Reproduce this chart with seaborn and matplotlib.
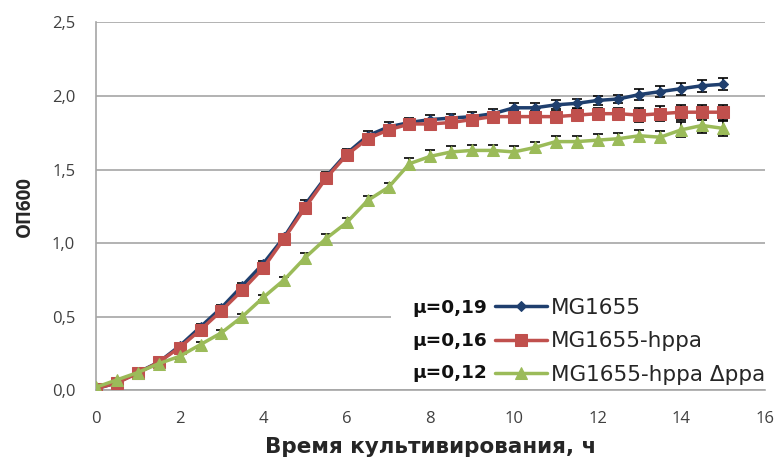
import matplotlib
matplotlib.use("Agg")
import matplotlib.pyplot as plt
import seaborn as sns
import pandas as pd
from matplotlib.patches import Rectangle

time_h = [0, 0.5, 1, 1.5, 2, 2.5, 3, 3.5, 4, 4.5, 5, 5.5, 6, 6.5, 7, 7.5,
          8, 8.5, 9, 9.5, 10, 10.5, 11, 11.5, 12, 12.5, 13, 13.5, 14, 14.5, 15]

mg1655 = [0.01, 0.05, 0.12, 0.19, 0.30, 0.43, 0.56, 0.71, 0.86, 1.04, 1.26, 1.45, 1.61, 1.73, 1.79,
          1.82, 1.84, 1.85, 1.86, 1.88, 1.92, 1.92, 1.94, 1.95, 1.97, 1.98, 2.01, 2.03, 2.05, 2.07, 2.08]
mg1655_err = [0.01, 0.01, 0.01, 0.01, 0.02, 0.02, 0.02, 0.02, 0.02, 0.02, 0.03, 0.03, 0.03, 0.03, 0.03,
              0.03, 0.03, 0.03, 0.03, 0.03, 0.03, 0.03, 0.03, 0.03, 0.03, 0.03, 0.04, 0.04, 0.04, 0.04, 0.04]

hppa = [0.01, 0.05, 0.115, 0.19, 0.29, 0.41, 0.54, 0.68, 0.83, 1.03, 1.24, 1.44, 1.60, 1.71, 1.77,
        1.81, 1.81, 1.82, 1.84, 1.86, 1.86, 1.86, 1.86, 1.87, 1.88, 1.88, 1.87, 1.88, 1.89, 1.89, 1.89]
hppa_err = [0.01, 0.01, 0.01, 0.01, 0.02, 0.02, 0.02, 0.02, 0.02, 0.02, 0.03, 0.03, 0.03, 0.03, 0.03,
            0.03, 0.03, 0.03, 0.03, 0.03, 0.04, 0.04, 0.04, 0.04, 0.04, 0.04, 0.05, 0.05, 0.05, 0.05, 0.05]

hppa_dppa = [0.02, 0.07, 0.12, 0.18, 0.23, 0.31, 0.39, 0.50, 0.63, 0.75, 0.90, 1.03, 1.14, 1.29, 1.38,
             1.54, 1.59, 1.62, 1.63, 1.63, 1.62, 1.65, 1.69, 1.69, 1.70, 1.71, 1.73, 1.72, 1.77, 1.80, 1.78]
hppa_dppa_err = [0.01, 0.01, 0.01, 0.01, 0.02, 0.02, 0.02, 0.02, 0.02, 0.02, 0.03, 0.03, 0.03, 0.03, 0.03,
                 0.04, 0.04, 0.04, 0.04, 0.04, 0.04, 0.04, 0.04, 0.04, 0.04, 0.04, 0.04, 0.04, 0.05, 0.05, 0.05]

labels = ["MG1655", "MG1655-hppa", "MG1655-hppa Δppa"]
mu_labels = ["μ=0,19", "μ=0,16", "μ=0,12"]
x_ticks = [0, 2, 4, 6, 8, 10, 12, 14, 16]
y_ticks = [0.0, 0.5, 1.0, 1.5, 2.0, 2.5]
y_tick_labels = ["0,0", "0,5", "1,0", "1,5", "2,0", "2,5"]

colors = ["#1F3F6E", "#C0504D", "#9BBB59"]
markers = ["D", "s", "^"]
msizes = [5, 8, 8]

sns.set_style("white")
plt.rcParams['font.family'] = ['Open Sans', 'DejaVu Sans']

fig = plt.figure(figsize=(7.78, 4.59), dpi=100)
ax = fig.add_axes([0.1234, 0.150, 0.8596, 0.801])

series = [(mg1655, mg1655_err), (hppa, hppa_err), (hppa_dppa, hppa_dppa_err)]
handles = []
for i, (vals, errs) in enumerate(series):
    df = pd.DataFrame({"t": time_h, "od": vals})
    ax.errorbar(time_h, vals, yerr=errs, fmt='none', ecolor='black', elinewidth=1.2,
                capsize=3.5, capthick=1.2, zorder=2)
    sns.lineplot(data=df, x="t", y="od", ax=ax, color=colors[i], marker=markers[i],
                 markersize=msizes[i], markeredgecolor=colors[i], linewidth=2.5, zorder=3 + i * 0.1)
    handles.append(ax.lines[-1])

ax.set_xlim(0, 16)
ax.set_ylim(0, 2.5)
ax.set_xticks(x_ticks)
ax.set_xticklabels([str(t) for t in x_ticks])
ax.set_yticks(y_ticks)
ax.set_yticklabels(y_tick_labels)
ax.yaxis.grid(True, color="#A6A6A6", linewidth=1.2)
ax.xaxis.grid(False)
ax.set_axisbelow(True)
for s in ["top", "right"]:
    ax.spines[s].set_visible(False)
for s in ["left", "bottom"]:
    ax.spines[s].set_color("#A6A6A6")
    ax.spines[s].set_linewidth(1.2)
ax.tick_params(axis='both', labelsize=12, colors="#404040", length=0)
ax.tick_params(axis='y', pad=15)
ax.tick_params(axis='x', pad=15)

ax.set_xlabel("Время культивирования, ч", fontsize=15.5, fontweight='bold', color="#262626",
              labelpad=7, family=['DejaVu Sans'])
ax.set_ylabel("ОП600", fontsize=13.5, fontweight='bold', color="#262626", labelpad=12)

# white legend background covering gridline
ax.add_patch(Rectangle((7.05, 0.04), 9.2, 0.57, facecolor='white', edgecolor='none',
                       zorder=1.5, clip_on=False))

leg = fig.legend(handles, labels, loc='upper left', bbox_to_anchor=(495 / 778, 1 - 298 / 459),
                 frameon=False, borderpad=0, borderaxespad=0,
                 prop={'family': ['DejaVu Sans'], 'size': 15.5}, handlelength=2.4, labelspacing=0.62,
                 handletextpad=0.2)
for t in leg.get_texts():
    t.set_color("#262626")

mu_y = [308, 341, 373]
for lab, yp in zip(mu_labels, mu_y):
    fig.text(412 / 778, 1 - yp / 459, lab, fontsize=13.3, fontweight='bold', color="#111111",
             ha='left', va='center', family=['DejaVu Sans'])

fig.savefig("out.png", dpi=100)
